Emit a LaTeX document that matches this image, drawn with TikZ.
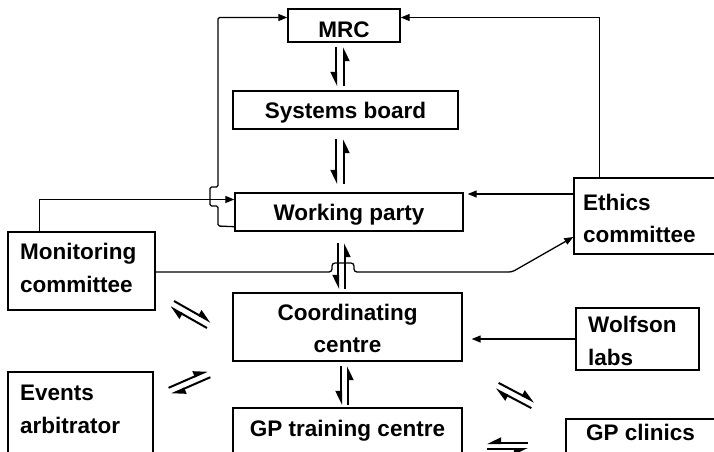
\documentclass[tikz,border=0pt]{standalone}
\usepackage{fontspec}
\setmainfont{Liberation Sans}
\usetikzlibrary{arrows.meta,calc}
\begin{document}
\begin{tikzpicture}[x=1pt,y=-1pt,
  box/.style={draw, line width=1.4pt, inner sep=0pt},
  txt/.style={font=\bfseries\fontsize{22.5}{27}\selectfont, inner sep=0pt},
  conn/.style={line width=1.3pt},
  tip/.style={-{Triangle[length=9pt,width=7pt]}},
  hp/.style={line width=2pt, -{Triangle[harpoon,length=12pt,width=11pt]}},
  hps/.style={line width=2pt, -{Triangle[harpoon,swap,length=12pt,width=11pt]}}]
\useasboundingbox (0,0) rectangle (714,451);
\clip (0,0) rectangle (714,451);
% boxes
\node[box, minimum width=112pt, minimum height=33pt] (mrc) at (344,25.5) {};
\node[box, minimum width=225pt, minimum height=38pt] (sb) at (345.5,110) {};
\node[box, minimum width=228pt, minimum height=38pt] (wp) at (349,212) {};
\node[box, minimum width=147pt, minimum height=78pt] (mon) at (81.5,271) {};
\node[box, minimum width=156pt, minimum height=76pt] (eth) at (652,216) {};
\node[box, minimum width=229pt, minimum height=68pt] (coord) at (347.5,327) {};
\node[box, minimum width=123pt, minimum height=62pt] (wolf) at (637.5,339) {};
\node[box, minimum width=145pt, minimum height=98pt] (ev) at (80.5,421) {};
\node[box, minimum width=229pt, minimum height=62pt] (gpt) at (347.5,439) {};
\node[box, minimum width=164pt, minimum height=61pt] (gpc) at (648,449.5) {};
% texts
\node[txt, anchor=base] (mrc-t) at (344,37) {MRC};
\node[txt, anchor=base] (sb-t) at (345.5,118) {Systems board};
\node[txt, anchor=base] (wp-t) at (349,220) {Working party};
\node[txt, anchor=base west] (mon-t1) at (20,259) {Monitoring};
\node[txt, anchor=base west] (mon-t2) at (20,292) {committee};
\node[txt, anchor=base west] (eth-t1) at (583,210) {Ethics};
\node[txt, anchor=base west] (eth-t2) at (583,242) {committee};
\node[txt, anchor=base] (coord-t1) at (347.5,320) {Coordinating};
\node[txt, anchor=base] (coord-t2) at (347.5,352) {centre};
\node[txt, anchor=base west] (wolf-t1) at (588,332) {Wolfson};
\node[txt, anchor=base west] (wolf-t2) at (588,365) {labs};
\node[txt, anchor=base west] (ev-t1) at (20,400) {Events};
\node[txt, anchor=base west] (ev-t2) at (20,433) {arbitrator};
\node[txt, anchor=base] (gpt-t) at (347.5,436) {GP training centre};
\node[txt, anchor=base west] (gpc-t) at (586,440) {GP clinics};
% connectors
\draw[conn,tip,rounded corners=1.5pt] ($(wp.south west)+(0,-5)$) -- (218,226) -- (218,206) -- (210,206) -- (210,187) -- (218,187) -- (218,17.5) -- ($(mrc.west)+(0,-8)$);
\draw[conn,tip] ($(mon.north west)+(32,0)$) |- ($(wp.west)+(0,-12.5)$);
\draw[conn,tip] ($(eth.north west)+(26,0)$) |- ($(mrc.east)+(0,-8)$);
\draw[conn,tip,shorten >=4pt] ($(eth.west)+(0,-22)$) -- ($(wp.east)+(0,-18)$);
\draw[conn,tip,rounded corners=3pt] ($(mon.east)+(0,1)$) -- (332,272) -- (332,263) -- (354,263) -- (354,272) -- (512,272) -- ($(eth.west)+(0,21)$);
\draw[conn,tip,shorten >=9pt] (wolf.west) -- (wolf.west -| coord.east);
% harpoon pairs
\coordinate (p1a) at (336,47);   \coordinate (p1b) at (336,86);
\coordinate (p1c) at (344,86);   \coordinate (p1d) at (344,47);
\draw[hps] (p1a) -- (p1b); \draw[hps] (p1c) -- (p1d);
\coordinate (p2a) at (336,139);  \coordinate (p2b) at (336,184);
\coordinate (p2c) at (344,184);  \coordinate (p2d) at (344,139);
\draw[hps] (p2a) -- (p2b); \draw[hps] (p2c) -- (p2d);
\coordinate (p3a) at (338,243);  \coordinate (p3b) at (338,289);
\coordinate (p3c) at (345,289);  \coordinate (p3d) at (345,243);
\draw[hps] (p3a) -- (p3b); \draw[hps] (p3c) -- (p3d);
\coordinate (p4a) at (341,366);  \coordinate (p4b) at (341,405);
\coordinate (p4c) at (348,405);  \coordinate (p4d) at (348,366);
\draw[hps] (p4a) -- (p4b); \draw[hps] (p4c) -- (p4d);
\coordinate (p5a) at (174,301);  \coordinate (p5b) at (211,322);
\coordinate (p5c) at (207,328);  \coordinate (p5d) at (170,307);
\draw[hp] (p5a) -- (p5b); \draw[hp] (p5c) -- (p5d);
\coordinate (p6a) at (168.6,387.8);  \coordinate (p6b) at (207.6,370.8);
\coordinate (p6c) at (210.4,377.2);  \coordinate (p6d) at (171.4,394.2);
\draw[hp] (p6a) -- (p6b); \draw[hp] (p6c) -- (p6d);
\coordinate (p7a) at (498.6,382.9);  \coordinate (p7b) at (534.6,401.9);
\coordinate (p7c) at (531.4,408.1);  \coordinate (p7d) at (495.4,389.1);
\draw[hp] (p7a) -- (p7b); \draw[hp] (p7c) -- (p7d);
\coordinate (p8a) at (528,443);  \coordinate (p8b) at (487,443);
\coordinate (p8c) at (487,449);  \coordinate (p8d) at (528,449);
\draw[hps] (p8a) -- (p8b); \draw[hps] (p8c) -- (p8d);
\end{tikzpicture}
\end{document}
